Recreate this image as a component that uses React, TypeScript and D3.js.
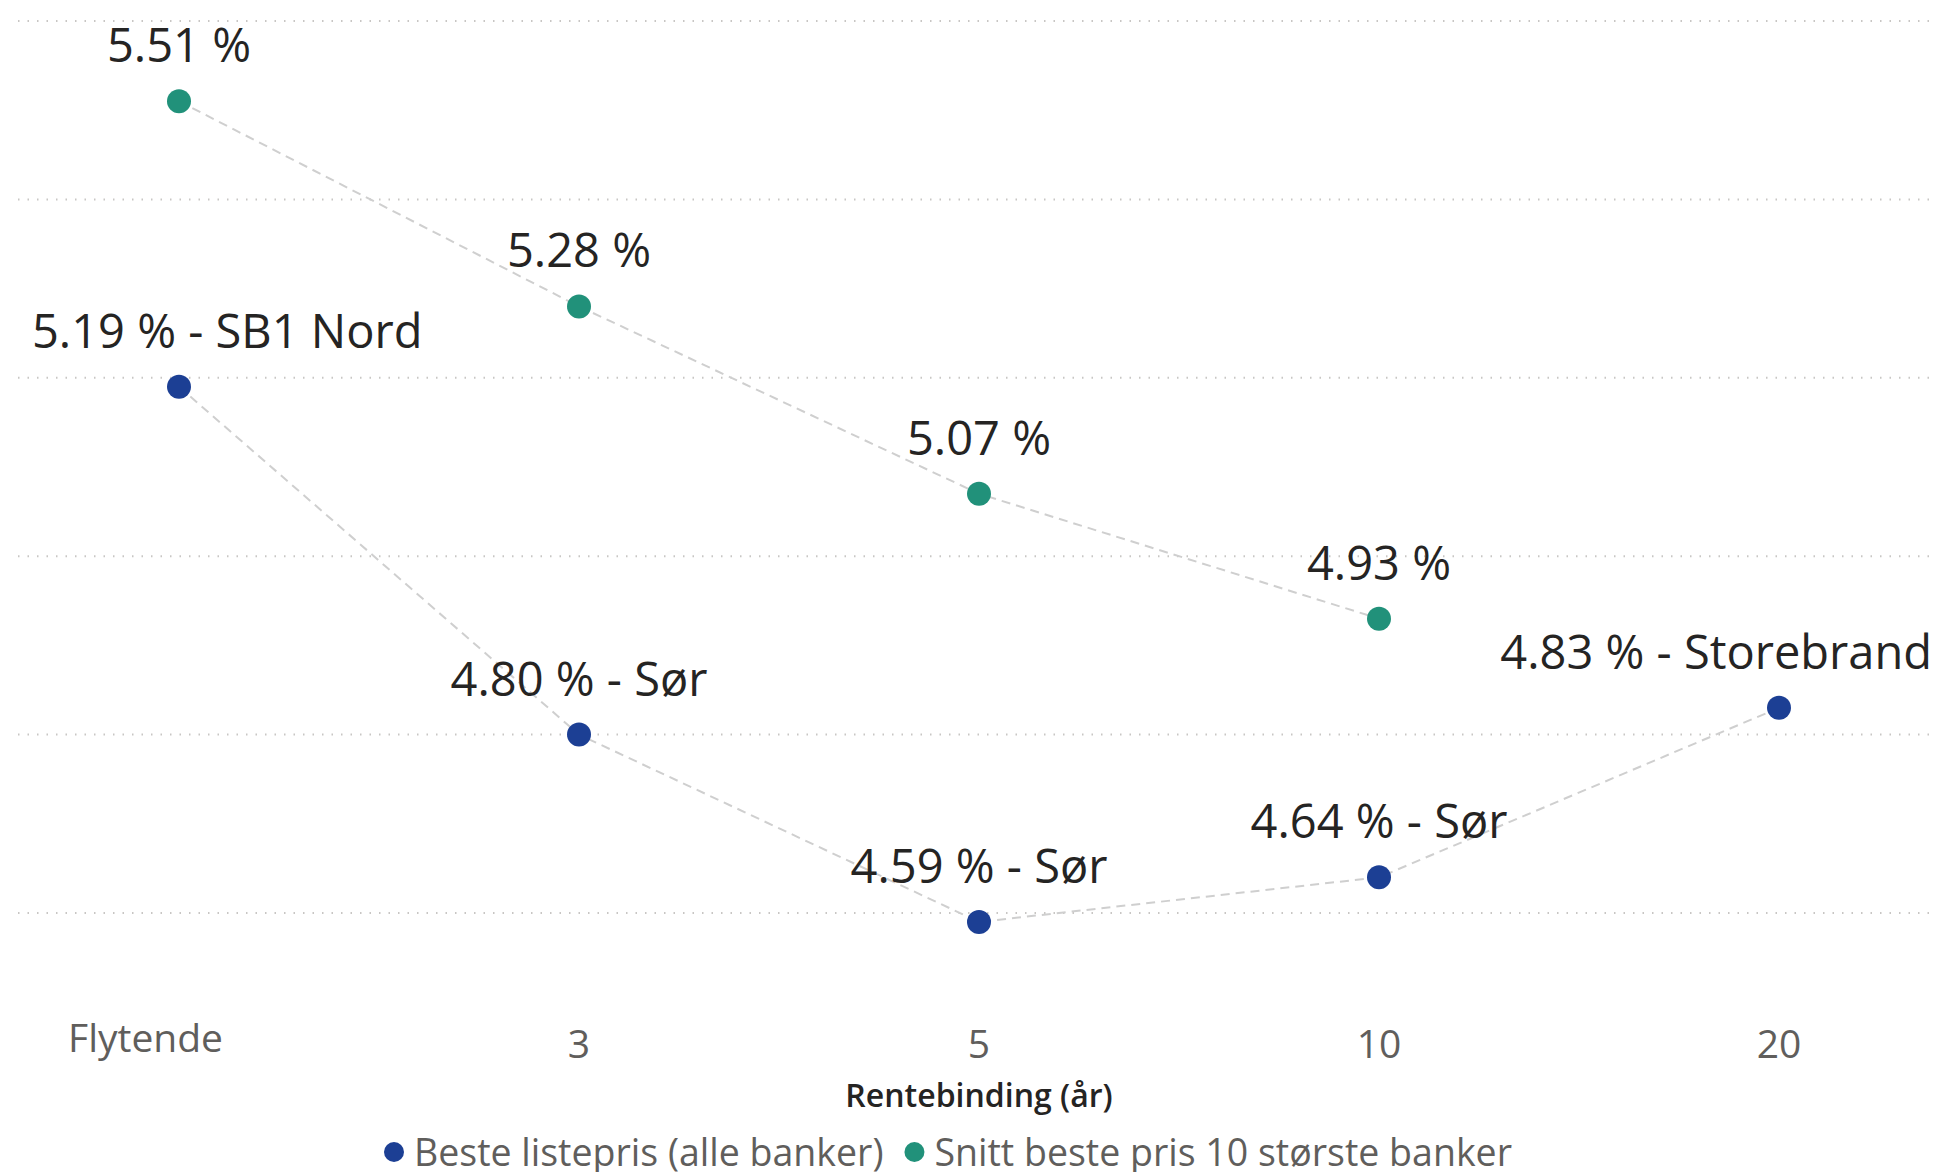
import { useEffect, useRef } from "react";
import * as d3 from "d3";

const categories = ["Flytende", "3", "5", "10", "20"];
const bestePris = [5.19, 4.8, 4.59, 4.64, 4.83];
const bestePrisBank = ["SB1 Nord", "Sør", "Sør", "Sør", "Storebrand"];
const snittPris = [5.51, 5.28, 5.07, 4.93];
const yTicks = [4.6, 4.8, 5.0, 5.2, 5.4, 5.6];
const seriesNames = ["Beste listepris (alle banker)", "Snitt beste pris 10 største banker"];

const BLUE = "#1c3f94";
const TEAL = "#21917a";
const FONT = "'Open Sans', 'Noto Sans', sans-serif";

export default function App() {
  const ref = useRef<SVGSVGElement>(null);

  useEffect(() => {
    if (!ref.current) return;
    const svg = d3.select(ref.current);
    svg.selectAll("*").remove();

    const W = 1936;
    const x = d3.scalePoint<string>().domain(categories).range([-21, 1979]).padding(0.5);
    const y = d3.scaleLinear().domain([4.6, 5.6]).range([913, 21]);

    // dotted gridlines
    svg.append("g").selectAll("line").data(yTicks).join("line")
      .attr("x1", 18).attr("x2", W)
      .attr("y1", (d) => y(d)).attr("y2", (d) => y(d))
      .attr("stroke", "#c8c6c4").attr("stroke-width", 2)
      .attr("stroke-dasharray", "1.5 8");

    const series = [
      { values: bestePris, color: BLUE, label: (v: number, i: number) => `${v.toFixed(2)} % - ${bestePrisBank[i]}` },
      { values: snittPris, color: TEAL, label: (v: number) => `${v.toFixed(2)} %` },
    ];

    const line = d3.line<number>()
      .x((_, i) => x(categories[i])!)
      .y((d) => y(d));

    series.forEach((s) => {
      svg.append("path").attr("d", line(s.values)!)
        .attr("fill", "none").attr("stroke", "#cfcfcf")
        .attr("stroke-width", 2).attr("stroke-dasharray", "9 6");
    });

    series.forEach((s) => {
      svg.append("g").selectAll("circle").data(s.values).join("circle")
        .attr("cx", (_, i) => x(categories[i])!)
        .attr("cy", (d) => y(d))
        .attr("r", 12).attr("fill", s.color);
    });

    // data labels, kept inside the visual
    series.forEach((s) => {
      s.values.forEach((v, i) => {
        const t = svg.append("text")
          .attr("font-family", FONT).attr("font-size", 47)
          .attr("fill", "#252423")
          .text(s.label(v, i));
        const w = (t.node() as SVGTextElement).getComputedTextLength();
        let left = x(categories[i])! - w / 2;
        left = Math.max(32, Math.min(1932 - w, left));
        t.attr("x", left).attr("y", y(v) - 39);
      });
    });

    // x axis labels
    svg.append("g").selectAll("text").data(categories).join("text")
      .attr("font-family", FONT).attr("font-size", 39)
      .attr("fill", "#605e5c")
      .attr("text-anchor", (_, i) => (i === 0 ? "start" : "middle"))
      .attr("x", (d, i) => (i === 0 ? 68 : x(d)!))
      .attr("y", (_, i) => (i === 0 ? 1052 : 1058))
      .text((d) => d);

    svg.append("text")
      .attr("font-family", FONT).attr("font-size", 32).attr("font-weight", 600)
      .attr("fill", "#252423").attr("text-anchor", "middle")
      .attr("x", x(categories[2])!).attr("y", 1107)
      .text("Rentebinding (år)");

    // legend
    const lg = svg.append("g");
    let cx = 394;
    seriesNames.forEach((name, i) => {
      lg.append("circle").attr("cx", cx).attr("cy", 1152).attr("r", 10)
        .attr("fill", series[i].color);
      const t = lg.append("text")
        .attr("font-family", FONT).attr("font-size", 37.5)
        .attr("fill", "#605e5c")
        .attr("x", cx + 20).attr("y", 1166)
        .text(name);
      const w = (t.node() as SVGTextElement).getComputedTextLength();
      cx += 20 + w + 31;
    });
  }, []);

  return (
    <div style={{ position: "absolute", left: 0, top: 0, background: "#fff" }}>
      <svg ref={ref} width={1936} height={1172} style={{ display: "block" }} />
    </div>
  );
}
